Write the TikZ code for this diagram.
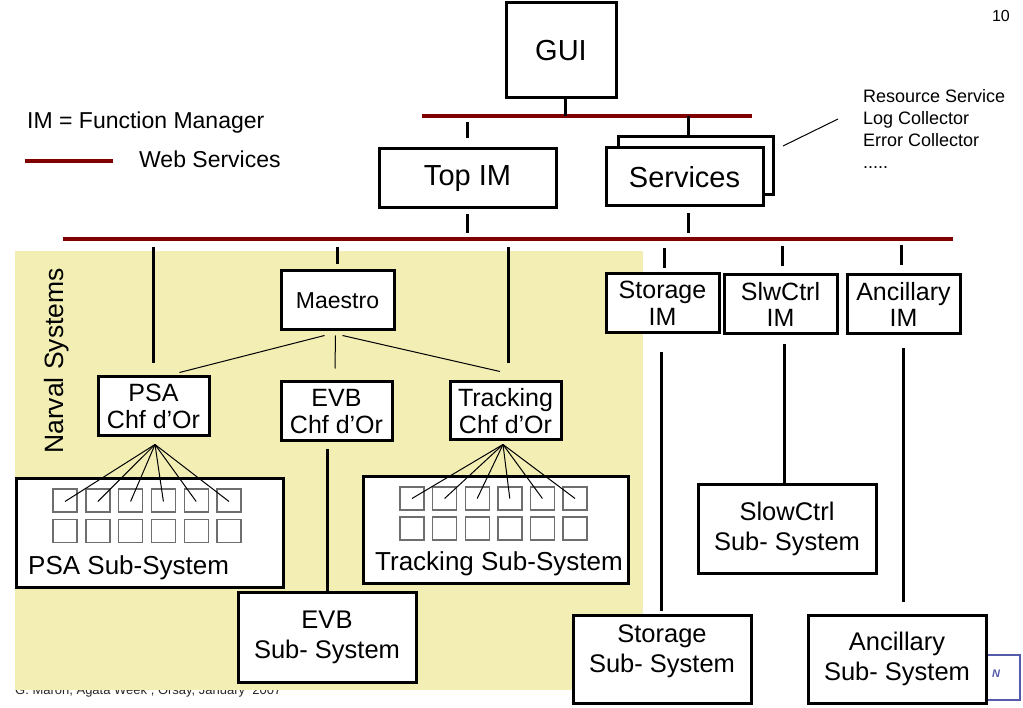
\documentclass[tikz,border=0pt]{standalone}
\usepackage{fontspec}
\setmainfont{Liberation Sans}
\definecolor{webred}{RGB}{128,0,0}
\definecolor{narvalbg}{RGB}{242,238,180}
\definecolor{cellgray}{RGB}{110,110,110}
\definecolor{infnblue}{RGB}{85,90,170}
\begin{document}
\begin{tikzpicture}[x=1pt,y=-1pt,
    box/.style={draw,line width=3pt,fill=white,inner sep=0pt,align=center},
    bus/.style={draw=webred,line width=4.5pt},
    link/.style={line width=3pt},
    fan/.style={line width=1pt},
    cell/.style={draw=cellgray,line width=1.4pt,fill=white,minimum width=24pt,minimum height=23pt,inner sep=0pt},
    big/.style={font=\fontsize{29}{32}\selectfont},
    twoline/.style={font=\fontsize{25}{26.5}\selectfont},
    sysfont/.style={font=\fontsize{25.5}{30}\selectfont},
    sublabel/.style={font=\fontsize{26}{28}\selectfont,inner sep=0pt},
    legend/.style={font=\fontsize{23}{25}\selectfont,inner sep=0pt}]
    \useasboundingbox (0,0) rectangle (1023,708);
    % footer, half hidden by the Narval area
    \node[font=\fontsize{13}{15}\selectfont,text=black!85,anchor=base west,inner sep=0pt] (footer) at (15,694) {G. Maron, Agata Week , Orsay, January~~2007};
    \fill[narvalbg] (15,251) rectangle (643,689.5);
    \node[font=\fontsize{26.5}{28}\selectfont,rotate=90,anchor=base,inner sep=0pt] (narvlabel) at (63,361) {Narval Systems};
    % legend and page number
    \node[legend,anchor=base west] (imdef) at (27,129) {IM = Function Manager};
    \coordinate (keyA) at (25,161);
    \coordinate (keyB) at (113,161);
    \draw[bus] (keyA) -- (keyB);
    \node[legend,anchor=base west] (webdef) at (139,168) {Web Services};
    \node[font=\fontsize{16}{18}\selectfont,anchor=base east,inner sep=0pt] (pagenum) at (1010,22) {10};
    % web services buses
    \coordinate (busA1) at (422,116);
    \coordinate (busA2) at (752,116);
    \coordinate (busB1) at (63,239);
    \coordinate (busB2) at (953,239);
    \draw[bus] (busA1) -- (busA2);
    \draw[bus] (busB1) -- (busB2);
    % top level
    \node[box,big,minimum width=110pt,minimum height=95pt] (gui) at (561,50.5) {GUI};
    \node[box,big,minimum width=177pt,minimum height=59pt] (topim) at (467.5,178.5) {Top IM};
    \node[box,minimum width=155pt,minimum height=58pt] (servback) at (695.5,166) {};
    \node[box,big,minimum width=157pt,minimum height=58pt] (services) at (684.5,177) {Services};
    \node[font=\fontsize{18}{22}\selectfont,align=left,anchor=north west,inner sep=0pt] (servlist) at (863,89) {Resource Service\\Log Collector\\Error Collector\\.....};
    \coordinate (leadA) at (783,146);
    \coordinate (leadB) at (838,119);
    \draw[fan] (leadA) -- (leadB);
    \draw[link] ([xshift=4pt]gui.south) -- ([xshift=4pt]gui.south |- busA1);
    \draw[link,shorten <=6pt,shorten >=9pt] (topim.north |- busA1) -- (topim.north);
    \draw[link] ([xshift=4pt]services.north |- busA1) -- ([xshift=4pt]services.north |- servback.north);
    \draw[link,shorten <=5pt,shorten >=6pt] (topim.south) -- (topim.south |- busB1);
    \draw[link,shorten <=6pt,shorten >=6pt] ([xshift=4pt]services.south) -- ([xshift=4pt]services.south |- busB1);
    % Narval systems
    \node[box,font=\fontsize{23}{25}\selectfont,minimum width=113pt,minimum height=59pt] (maestro) at (337.5,300.5) {Maestro};
    \node[box,twoline,minimum width=111pt,minimum height=59pt] (psachf) at (153.5,406.5) {PSA\\Chf d’Or};
    \node[box,twoline,minimum width=111pt,minimum height=59pt] (evbchf) at (336.5,411.5) {EVB\\Chf d’Or};
    \node[box,twoline,minimum width=111pt,minimum height=58pt] (trkchf) at (505.5,411) {Tracking\\Chf d’Or};
    \draw[link,shorten <=8pt,shorten >=12pt] (psachf.north |- busB1) -- (psachf.north);
    \draw[link,shorten <=8pt,shorten >=5pt] (maestro.north |- busB1) -- (maestro.north);
    \draw[link,shorten <=8pt,shorten >=17pt] ([xshift=2.5pt]trkchf.north |- busB1) -- ([xshift=2.5pt]trkchf.north);
    \draw[fan] ([xshift=-13pt,yshift=-4pt]maestro.south) -- ([xshift=26pt,yshift=3pt]psachf.north);
    \draw[fan] ([xshift=-2pt,yshift=-4pt]maestro.south) -- ([xshift=-1.5pt,yshift=12pt]evbchf.north);
    \draw[fan] ([xshift=5pt,yshift=-4pt]maestro.south) -- ([xshift=-5.5pt,yshift=9pt]trkchf.north);
    % PSA sub-system
    \node[box,minimum width=267pt,minimum height=109pt] (psasys) at (149.5,532.5) {};
    \node[sublabel,anchor=base west] (psalabel) at (28,574) {PSA Sub-System};
    \foreach \i in {1,...,6}{
        \node[cell] (psa-\i-1) at ({65+32.8*(\i-1)},500.5) {};
        \node[cell] (psa-\i-2) at ({65+32.8*(\i-1)},531) {};
    }
    \coordinate (psafan) at ([xshift=1.5pt,yshift=-7pt]psachf.south);
    \foreach \i in {1,...,6}
        \draw[fan] (psafan) -- ([yshift=-1pt]psa-\i-1.center);
    % Tracking sub-system
    \node[box,minimum width=265pt,minimum height=107pt] (trksys) at (495.5,529.5) {};
    \node[sublabel,anchor=base west] (trklabel) at (375,570) {Tracking Sub-System};
    \foreach \i in {1,...,6}{
        \node[cell] (trk-\i-1) at ({412+32.6*(\i-1)},498.5) {};
        \node[cell] (trk-\i-2) at ({412+32.6*(\i-1)},528.5) {};
    }
    \coordinate (trkfan) at ([xshift=-2.5pt,yshift=-3pt]trkchf.south);
    \foreach \i in {1,...,6}
        \draw[fan] (trkfan) -- (trk-\i-1.center);
    % EVB sub-system
    \node[box,sysfont,minimum width=178pt,minimum height=90pt] (evbsys) at (327,637) {EVB\\Sub- System};
    \draw[link,shorten <=7pt] (evbchf.south -| evbsys.north) -- (evbsys.north);
    % other IMs
    \node[box,twoline,minimum width=113pt,minimum height=59pt] (storim) at (662.5,303.5) {Storage\\IM};
    \node[box,twoline,minimum width=113pt,minimum height=59pt] (slwim) at (780.5,304.5) {SlwCtrl\\IM};
    \node[box,twoline,minimum width=113pt,minimum height=59pt] (ancim) at (903.5,304.5) {Ancillary\\IM};
    \draw[link,shorten <=9pt,shorten >=4pt] ([xshift=1.5pt]storim.north |- busB1) -- ([xshift=1.5pt]storim.north);
    \draw[link,shorten <=7pt,shorten >=7pt] ([xshift=1.5pt]slwim.north |- busB1) -- ([xshift=1.5pt]slwim.north);
    \draw[link,shorten <=6pt,shorten >=8pt] ([xshift=-2.5pt]ancim.north |- busB1) -- ([xshift=-2.5pt]ancim.north);
    % logo behind the ancillary box
    \node[draw=infnblue,line width=1.5pt,fill=white,minimum width=67pt,minimum height=45pt] (logo) at (986.5,677.5) {};
    \node[text=infnblue,font=\bfseries\itshape\fontsize{11}{12}\selectfont,inner sep=0pt] (logoN) at (996,674) {N};
    \node[box,minimum width=178pt,minimum height=88pt] (storsys) at (662,659) {};
    \node[sysfont,align=center,inner sep=0pt] (storlabel) at ([yshift=8pt]storsys.center) {Storage\\Sub- System};
    \node[box,sysfont,minimum width=178pt,minimum height=89pt] (slowsys) at (787,528.5) {SlowCtrl\\Sub- System};
    \node[box,sysfont,minimum width=178pt,minimum height=88pt] (ancsys) at (897,659) {Ancillary\\Sub- System};
    \draw[link,shorten <=18pt,shorten >=3pt] ([xshift=-1.5pt]storim.south) -- ([xshift=-1.5pt]storim.south |- storsys.north);
    \draw[link,shorten <=9pt] ([xshift=3.5pt]slwim.south) -- ([xshift=3.5pt]slwim.south |- slowsys.north);
    \draw[link,shorten <=13pt,shorten >=12pt] (ancim.south) -- (ancim.south |- ancsys.north);
\end{tikzpicture}
\end{document}
